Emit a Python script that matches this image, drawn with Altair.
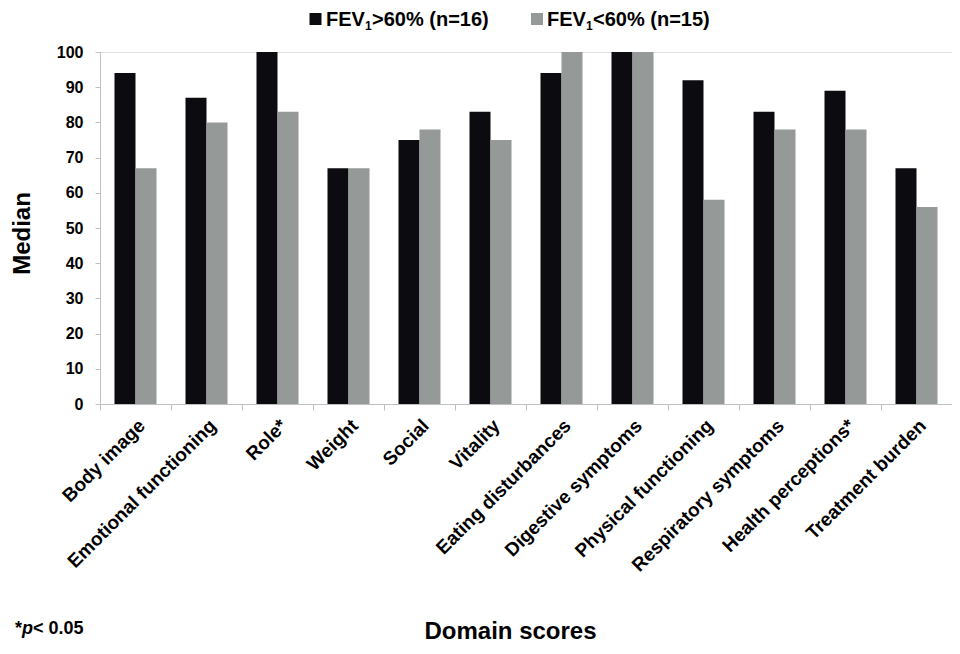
import altair as alt
import pandas as pd

categories = ["Body image", "Emotional functioning", "Role*", "Weight", "Social",
              "Vitality", "Eating disturbances", "Digestive symptoms",
              "Physical functioning", "Respiratory symptoms", "Health perceptions*",
              "Treatment burden"]
high_fev = [94, 87, 100, 67, 75, 83, 94, 100, 92, 83, 89, 67]
low_fev = [67, 80, 83, 67, 78, 75, 100, 100, 58, 78, 78, 56]
groups = ["FEV1>60% (n=16)", "FEV1<60% (n=15)"]
colors = ["#0c0b0f", "#959a99"]

rows = []
for c, a, b in zip(categories, high_fev, low_fev):
    rows.append({"cat": c, "grp": groups[0], "val": a})
    rows.append({"cat": c, "grp": groups[1], "val": b})
df = pd.DataFrame(rows)

FONT = "Liberation Sans"

bars = alt.Chart(df).mark_bar().encode(
    x=alt.X("cat:N", sort=categories,
            scale=alt.Scale(paddingInner=0, paddingOuter=0),
            axis=alt.Axis(title="Domain scores", labelAngle=-45, labelAlign="right",
                          labelBaseline="top", labelFontSize=19, labelFontWeight="bold",
                          labelPadding=6, tickSize=6, bandPosition=0, labelLimit=0,
                          domainColor="#bfbfbf", tickColor="#bfbfbf", labelColor="black",
                          titleFontSize=24, titleFontWeight="bold", titleColor="black",
                          titleX=410, titleY=234, titleAlign="center",
                          titleBaseline="alphabetic", labelFont=FONT, titleFont=FONT)),
    xOffset=alt.XOffset("grp:N", sort=groups,
                        scale=alt.Scale(paddingOuter=0.69, paddingInner=0)),
    y=alt.Y("val:Q", scale=alt.Scale(domain=[0, 100]),
            axis=alt.Axis(title="Median", values=list(range(0, 101, 10)), grid=False,
                          tickSize=5, labelPadding=12, labelFontSize=16,
                          labelFontWeight="bold", labelColor="black",
                          domainColor="#bfbfbf", tickColor="#bfbfbf",
                          titleFontSize=24, titleFontWeight="bold", titleColor="black",
                          titleAngle=-90, titleX=-78, titleY=181, titleAlign="center",
                          titleBaseline="middle", labelFont=FONT, titleFont=FONT)),
    color=alt.Color("grp:N", sort=groups,
                    scale=alt.Scale(domain=groups, range=colors), legend=None),
)

# Manual legend (to allow subscript)
leg_sq = pd.DataFrame({"x": [215.5, 437], "y": [-33, -33], "grp": groups})
squares = alt.Chart(leg_sq).mark_square(size=144, opacity=1).encode(
    x=alt.X("x:Q", scale=None), y=alt.Y("y:Q", scale=None),
    color=alt.Color("grp:N", scale=alt.Scale(domain=groups, range=colors), legend=None))

leg_text = pd.DataFrame({
    "x": [226, 447, 265, 486, 272, 493],
    "y": [-26, -26, -22, -22, -26, -26],
    "t": ["FEV", "FEV", "1", "1", ">60% (n=16)", "<60% (n=15)"],
    "s": [20, 20, 12, 12, 20, 20],
})
texts = alt.Chart(leg_text).mark_text(align="left", baseline="alphabetic",
                                      fontWeight="bold", font=FONT, color="black").encode(
    x=alt.X("x:Q", scale=None), y=alt.Y("y:Q", scale=None),
    text="t:N", size=alt.Size("s:Q", scale=None, legend=None))

foot = pd.DataFrame({"x": [-85, -78, -67], "y": [582, 582, 582],
                     "t": ["*", "p", "< 0.05"], "st": ["normal", "italic", "normal"]})
foot_p = alt.Chart(foot[foot.st == "italic"]).mark_text(
    align="left", baseline="alphabetic", fontSize=18, fontWeight="bold",
    fontStyle="italic", font=FONT, color="black").encode(
    x=alt.X("x:Q", scale=None), y=alt.Y("y:Q", scale=None), text="t:N")
foot_normal = alt.Chart(foot[foot.st == "normal"]).mark_text(
    align="left", baseline="alphabetic", fontSize=18, fontWeight="bold",
    font=FONT, color="black").encode(
    x=alt.X("x:Q", scale=None), y=alt.Y("y:Q", scale=None), text="t:N")

chart = alt.layer(bars, squares, texts, foot_normal, foot_p).resolve_scale(
    color="independent").properties(
    width=852, height=352,
    autosize=alt.AutoSizeParams(type="none"),
    padding={"left": 92, "top": 44, "right": 0, "bottom": 240},
).configure_view(stroke=None).configure(font=FONT)

chart.save("out.html", embed_options={"renderer": "svg", "actions": False})
